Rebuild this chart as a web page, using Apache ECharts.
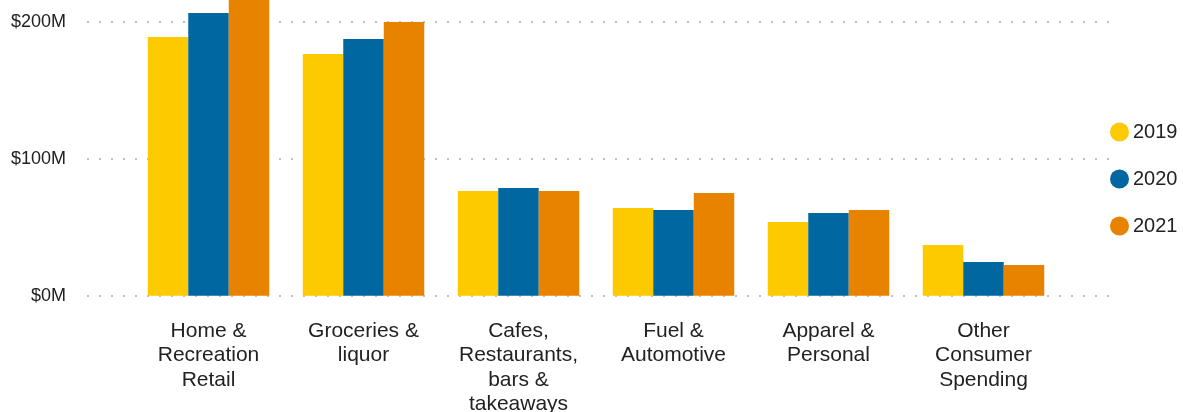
<!DOCTYPE html>
<html>
<head>
<meta charset="utf-8">
<script src="https://cdn.jsdelivr.net/npm/echarts@6/dist/echarts.min.js"></script>
<style>
html,body{margin:0;padding:0;background:#fff;}
#chart{width:1183px;height:412px;}
</style>
</head>
<body>
<div id="chart"></div>
<script>
const categories = [
  "Home &\nRecreation\nRetail",
  "Groceries &\nliquor",
  "Cafes,\nRestaurants,\nbars &\ntakeaways",
  "Fuel &\nAutomotive",
  "Apparel &\nPersonal",
  "Other\nConsumer\nSpending"
];
const seriesNames = ["2019", "2020", "2021"];
const values2019 = [189, 176.6, 76.5, 64.1, 53.9, 37.0];
const values2020 = [206.6, 187.6, 78.7, 62.6, 60.4, 24.6];
const values2021 = [220, 200.0, 76.5, 75.0, 62.6, 22.4];
const yTicks = [0, 100, 200];
const colors = ["#fdca00", "#0067a1", "#e88300"];

const FONT = "'Liberation Sans', Arial, sans-serif";
const chart = echarts.init(document.getElementById('chart'), null, {renderer: 'canvas'});

// zero line at y=295.7, 100M per 136.85 px
const zeroY = 295.7, pxPer100 = 136.85;
const barAxisMax = zeroY / pxPer100 * 100;   // value at the canvas top
const option = {
  animation: false,
  color: colors,
  textStyle: {fontFamily: FONT},
  grid: [
    {left: 131, right: 122, top: 0, bottom: 412 - zeroY, containLabel: false, outerBoundsMode: 'none'},
    {left: 87, right: 74, top: zeroY - 2 * pxPer100, bottom: 412 - zeroY, containLabel: false, outerBoundsMode: 'none'}
  ],
  legend: {
    orient: 'vertical',
    left: 1110,
    top: 122,
    padding: 0,
    icon: 'circle',
    itemWidth: 19,
    itemHeight: 19,
    itemGap: 27,
    data: seriesNames,
    textStyle: {fontFamily: FONT, fontSize: 20, color: '#222', lineHeight: 20, padding: [0, 0, 0, -1]}
  },
  xAxis: [
    {
      type: 'category', gridIndex: 0, data: categories,
      axisLine: {show: false}, axisTick: {show: false},
      axisLabel: {fontFamily: FONT, fontSize: 21, lineHeight: 24.5, color: '#222', margin: 23, interval: 0, align: 'center'}
    },
    {
      type: 'category', gridIndex: 1, data: categories, show: false
    }
  ],
  yAxis: [
    {type: 'value', gridIndex: 0, min: 0, max: barAxisMax, show: false, splitLine: {show: false}},
    {
      type: 'value', gridIndex: 1, min: yTicks[0], max: yTicks[yTicks.length - 1], interval: 100,
      axisLine: {show: false}, axisTick: {show: false},
      axisLabel: {fontFamily: FONT, fontSize: 18, color: '#222', margin: 21, formatter: v => '$' + v + 'M'},
      splitLine: {show: true, lineStyle: {color: '#bfbfbf', width: 2, type: [2, 10]}}
    }
  ],
  series: [
    {name: seriesNames[0], type: 'bar', xAxisIndex: 0, yAxisIndex: 0, data: values2019, barWidth: 40.5, barGap: '0%'},
    {name: seriesNames[1], type: 'bar', xAxisIndex: 0, yAxisIndex: 0, data: values2020, barWidth: 40.5, barGap: '0%'},
    {name: seriesNames[2], type: 'bar', xAxisIndex: 0, yAxisIndex: 0, data: values2021, barWidth: 40.5, barGap: '0%'}
  ]
};
chart.setOption(option);
</script>
</body>
</html>
